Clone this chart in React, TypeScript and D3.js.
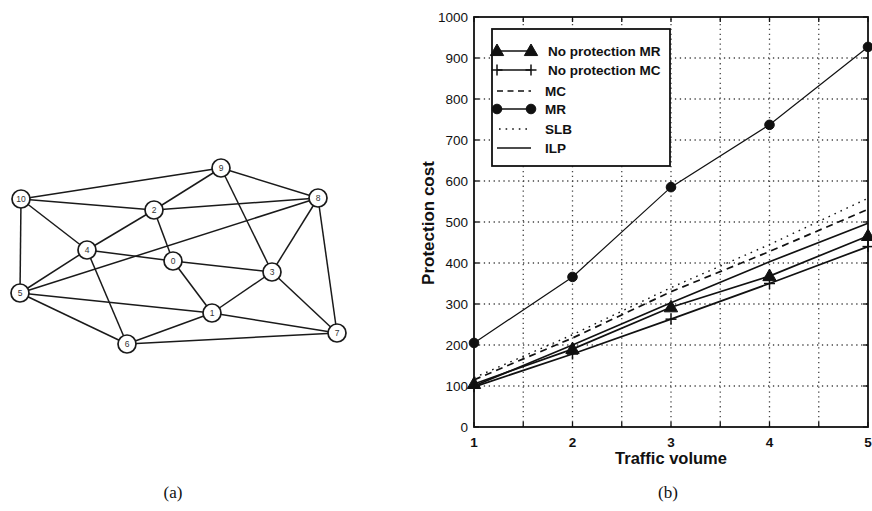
import React from "react";
import * as d3 from "d3";

// ---------- Data ----------
const trafficVolume = [1, 2, 3, 4, 5];
const noProtectionMR = [105, 190, 292, 368, 466];
const noProtectionMC = [98, 178, 263, 350, 440];
const mcCost = [115, 217, 330, 428, 531];
const mrCost = [205, 366, 585, 737, 927];
const slbCost = [120, 225, 340, 445, 558];
const ilpCost = [100, 200, 303, 403, 497];

const yTicks = [0, 100, 200, 300, 400, 500, 600, 700, 800, 900, 1000];
const xTicks = [1, 1.5, 2, 2.5, 3, 3.5, 4, 4.5, 5];
const xLabels = [1, 2, 3, 4, 5];

const legendNames = ["No protection MR", "No protection MC", "MC", "MR", "SLB", "ILP"];

// network (a)
const nodeIds = [0, 1, 2, 3, 4, 5, 6, 7, 8, 9, 10];
const nodeX = [173, 212, 154, 272, 87, 20, 127, 337, 318, 221, 21];
const nodeY = [261, 313, 210, 272, 250, 293, 344, 333, 198, 168, 199];
const edgeList: [number, number][] = [
  [10, 9], [10, 2], [10, 4], [10, 5], [9, 2], [9, 8], [9, 3], [2, 8], [2, 4], [2, 0],
  [8, 5], [8, 3], [8, 7], [4, 5], [4, 0], [4, 6], [0, 3], [0, 1], [3, 1], [3, 7],
  [5, 1], [1, 7], [5, 6], [6, 1], [6, 7],
];

const FONT = "'Liberation Sans', Arial, sans-serif";

function Triangle({ cx, cy, s = 7 }: { cx: number; cy: number; s?: number }) {
  const p = [
    [cx, cy - s],
    [cx - s * 0.95, cy + s * 0.65],
    [cx + s * 0.95, cy + s * 0.65],
  ];
  return <polygon points={p.map((q) => q.join(",")).join(" ")} fill="#111" stroke="#111" strokeWidth={1} />;
}

function Plus({ cx, cy, s = 5.5 }: { cx: number; cy: number; s?: number }) {
  return (
    <g stroke="#111" strokeWidth={1.5}>
      <line x1={cx - s} x2={cx + s} y1={cy} y2={cy} />
      <line x1={cx} x2={cx} y1={cy - s} y2={cy + s} />
    </g>
  );
}

function Dot({ cx, cy, r = 4.8 }: { cx: number; cy: number; r?: number }) {
  return <circle cx={cx} cy={cy} r={r} fill="#111" stroke="#111" />;
}

export default function App() {
  const x = d3.scaleLinear().domain([1, 5]).range([474, 868]);
  const y = d3.scaleLinear().domain([0, 1000]).range([427, 17]);

  const line = (vals: number[]) =>
    d3
      .line<number>()
      .x((_, i) => x(trafficVolume[i]))
      .y((d) => y(d))(vals) || "";

  const [x0, x1] = x.range();
  const [yb, yt] = y.range();

  const series = [
    { vals: slbCost, dash: "1.6,5", width: 1.4 },
    { vals: mcCost, dash: "7,5", width: 1.7 },
    { vals: ilpCost, dash: undefined, width: 1.7 },
    { vals: noProtectionMR, dash: undefined, width: 1.7 },
    { vals: noProtectionMC, dash: undefined, width: 1.7 },
    { vals: mrCost, dash: undefined, width: 1.2 },
  ];

  // legend geometry
  const lgX = 492, lgY = 29, lgW = 178, lgH = 137;
  const rowY = [51, 70, 91, 109, 129, 148];
  const sx0 = 497, sx1 = 531;

  return (
    <svg
      width={872}
      height={511}
      style={{ position: "absolute", left: 0, top: 0, background: "#fff" }}
      fontFamily={FONT}
    >
      <rect width={872} height={511} fill="#fff" />

      {/* ---------- (a) network ---------- */}
      <g>
        {edgeList.map(([a, b], i) => (
          <line
            key={i}
            x1={nodeX[a]}
            y1={nodeY[a]}
            x2={nodeX[b]}
            y2={nodeY[b]}
            stroke="#1a1a1a"
            strokeWidth={1.5}
          />
        ))}
        {nodeIds.map((id) => (
          <g key={id}>
            <circle cx={nodeX[id]} cy={nodeY[id]} r={9} fill="#fff" stroke="#1a1a1a" strokeWidth={1.7} />
            <text
              x={nodeX[id]}
              y={nodeY[id] + 3}
              textAnchor="middle"
              fontSize={8.5}
              fill="#333"
            >
              {id}
            </text>
          </g>
        ))}
      </g>

      {/* ---------- (b) chart ---------- */}
      <g>
        {/* grid */}
        {yTicks
          .filter((t) => t > 0 && t < 1000)
          .map((t) => (
            <line key={"gy" + t} x1={x0} x2={x1} y1={y(t)} y2={y(t)} stroke="#444" strokeWidth={1.3} strokeDasharray="1.3,3.6" />
          ))}
        {xTicks
          .filter((t) => t > 1 && t < 5)
          .map((t) => (
            <line key={"gx" + t} x1={x(t)} x2={x(t)} y1={yb} y2={yt} stroke="#444" strokeWidth={1.3} strokeDasharray="1.3,3.6" />
          ))}

        {/* series lines */}
        {series.map((s, i) => (
          <path
            key={i}
            d={line(s.vals)}
            fill="none"
            stroke="#111"
            strokeWidth={s.width}
            strokeDasharray={s.dash}
          />
        ))}

        {/* markers */}
        {noProtectionMR.map((v, i) => (
          <Triangle key={"t" + i} cx={x(trafficVolume[i])} cy={y(v)} />
        ))}
        {noProtectionMC.map((v, i) => (
          <Plus key={"p" + i} cx={x(trafficVolume[i])} cy={y(v)} />
        ))}
        {mrCost.map((v, i) => (
          <Dot key={"c" + i} cx={x(trafficVolume[i])} cy={y(v)} />
        ))}

        {/* axes box */}
        <rect x={x0} y={yt} width={x1 - x0} height={yb - yt} fill="none" stroke="#111" strokeWidth={1.8} />

        {/* ticks */}
        {yTicks.map((t) => (
          <g key={"ty" + t} stroke="#111" strokeWidth={1.3}>
            <line x1={x0} x2={x0 + 5} y1={y(t)} y2={y(t)} />
            <line x1={x1} x2={x1 - 5} y1={y(t)} y2={y(t)} />
          </g>
        ))}
        {xTicks.map((t) => (
          <g key={"tx" + t} stroke="#111" strokeWidth={1.3}>
            <line x1={x(t)} x2={x(t)} y1={yb} y2={yb - 5} />
            <line x1={x(t)} x2={x(t)} y1={yt} y2={yt + 5} />
          </g>
        ))}

        {/* tick labels */}
        {yTicks.map((t) => (
          <text key={"ly" + t} x={x0 - 6} y={y(t) + 5} textAnchor="end" fontSize={13.5} fill="#111">
            {t}
          </text>
        ))}
        {xLabels.map((t) => (
          <text key={"lx" + t} x={x(t)} y={447} textAnchor="middle" fontSize={13.5} fontWeight="bold" fill="#111">
            {t}
          </text>
        ))}

        {/* axis labels */}
        <text x={671} y={464} textAnchor="middle" fontSize={16.5} fontWeight="bold" fill="#111">
          Traffic volume
        </text>
        <text
          transform={`translate(434,223) rotate(-90)`}
          textAnchor="middle"
          fontSize={17}
          fontWeight="bold"
          fill="#111"
        >
          Protection cost
        </text>

        {/* legend */}
        <rect x={lgX} y={lgY} width={lgW} height={lgH} fill="#fff" stroke="#111" strokeWidth={1.8} />
        {/* row 0: triangles */}
        <line x1={sx0} x2={sx1} y1={rowY[0]} y2={rowY[0]} stroke="#111" strokeWidth={1.5} />
        <Triangle cx={sx0} cy={rowY[0]} />
        <Triangle cx={sx1} cy={rowY[0]} />
        {/* row 1: plus */}
        <line x1={sx0} x2={sx1} y1={rowY[1]} y2={rowY[1]} stroke="#111" strokeWidth={1.5} />
        <Plus cx={sx0} cy={rowY[1]} />
        <Plus cx={sx1} cy={rowY[1]} />
        {/* row 2: dashed */}
        <line x1={sx0} x2={sx1} y1={rowY[2]} y2={rowY[2]} stroke="#111" strokeWidth={1.5} strokeDasharray="6,4.5" />
        {/* row 3: circles */}
        <line x1={sx0} x2={sx1} y1={rowY[3]} y2={rowY[3]} stroke="#111" strokeWidth={1.5} />
        <Dot cx={sx0} cy={rowY[3]} />
        <Dot cx={sx1} cy={rowY[3]} />
        {/* row 4: dotted */}
        <line x1={sx0 + 2} x2={sx1} y1={rowY[4]} y2={rowY[4]} stroke="#111" strokeWidth={1.4} strokeDasharray="1.6,5" />
        {/* row 5: solid */}
        <line x1={sx0} x2={sx1} y1={rowY[5]} y2={rowY[5]} stroke="#111" strokeWidth={1.5} />

        {legendNames.map((n, i) => (
          <text
            key={n}
            x={i < 2 ? 548 : 545}
            y={rowY[i] + 4.5}
            fontSize={13.5}
            fontWeight="bold"
            fill="#111"
          >
            {n}
          </text>
        ))}
      </g>

      {/* captions */}
      <text x={173} y={498} textAnchor="middle" fontSize={17} fontFamily="'Liberation Serif', 'DejaVu Serif', serif" fill="#111">
        (a)
      </text>
      <text x={668} y={498} textAnchor="middle" fontSize={17} fontFamily="'Liberation Serif', 'DejaVu Serif', serif" fill="#111">
        (b)
      </text>
    </svg>
  );
}
